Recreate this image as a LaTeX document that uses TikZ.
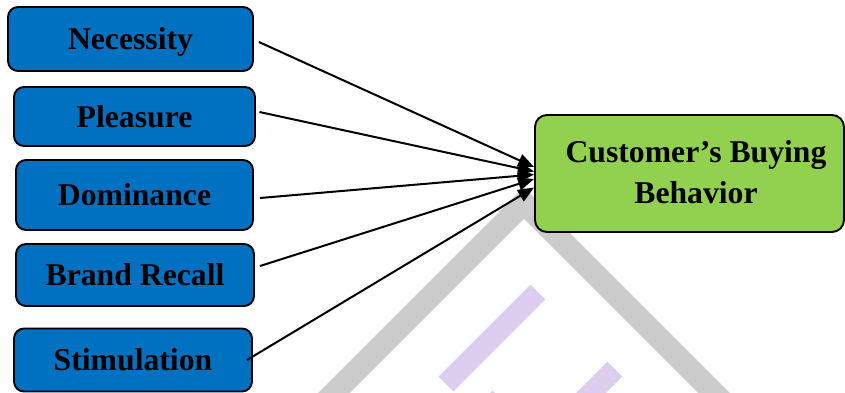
\documentclass[tikz,border=0pt]{standalone}
\usepackage{fontspec}
\setmainfont{Liberation Serif}
\usetikzlibrary{arrows.meta,calc}
\definecolor{boxblue}{HTML}{0070C0}
\definecolor{boxgreen}{HTML}{92D050}
\definecolor{wmgray}{HTML}{CCCCCC}
\definecolor{wmpurple}{HTML}{DDCEF0}
\tikzset{
  bluebox/.style={draw=black, line width=1.9pt, fill=boxblue, rounded corners=10pt,
    inner sep=0pt, text height=21pt, text depth=0pt,
    font=\fontsize{31.7}{38}\selectfont\bfseries},
  greenbox/.style={draw=black, line width=1.9pt, fill=boxgreen, rounded corners=12pt, inner sep=0pt},
  boxlabel/.style={align=center, inner sep=0pt, font=\fontsize{31.7}{40.5}\selectfont\bfseries},
  link/.style={draw=black, line width=2pt, -{Triangle[length=16pt,width=13pt]}},
  wmband/.style={draw=wmgray, line width=22.6pt, line join=miter},
  wmstrip/.style={draw=wmpurple, line width=21pt, line cap=butt}
}
\begin{document}
\begin{tikzpicture}[x=1pt,y=-1pt]
\useasboundingbox (0,0) rectangle (845,392);
% watermark
\begin{scope}
\clip (0,0) rectangle (845,392);
\draw[wmband] (305,422) -- (524,203) -- (743,422);
\draw[wmstrip] (538,292) -- (446,384);
\draw[wmstrip] (615,369) -- (560,424);
\draw[wmstrip] (500,398) -- (470,428);
\end{scope}
% input boxes
\node[bluebox, minimum width=245pt, minimum height=64pt] (nec) at (130.5,39) {Necessity};
\node[bluebox, minimum width=241pt, minimum height=59pt] (ple) at (134.5,116.5) {Pleasure};
\node[bluebox, minimum width=237pt, minimum height=70pt] (dom) at (134.5,195) {Dominance};
\node[bluebox, minimum width=238pt, minimum height=62pt] (bra) at (135,275) {Brand Recall\hspace{9pt}};
\node[bluebox, minimum width=238pt, minimum height=63pt] (sti) at (133,360) {Stimulation};
% output box
\node[greenbox, minimum width=309pt, minimum height=117pt] (cbb) at (689.5,173.5) {};
\node[boxlabel] (cbbtext) at (696,172) {Customer’s Buying\\Behavior};
% connectors
\draw[link] ([xshift=5pt,yshift=-3pt]nec.east) -- ([yshift=6.5pt]cbb.west);
\draw[link] ([xshift=3.5pt,yshift=4.5pt]ple.east) -- ([yshift=2pt]cbb.west);
\draw[link] ([xshift=6pt,yshift=-3pt]dom.east) -- ([yshift=-1pt]cbb.west);
\draw[link] ([xshift=5pt,yshift=9pt]bra.east) -- ([yshift=-5.5pt]cbb.west);
\draw[link] ([xshift=-6pt,yshift=0pt]sti.east) -- ([yshift=-14pt]cbb.west);
\end{tikzpicture}
\end{document}
